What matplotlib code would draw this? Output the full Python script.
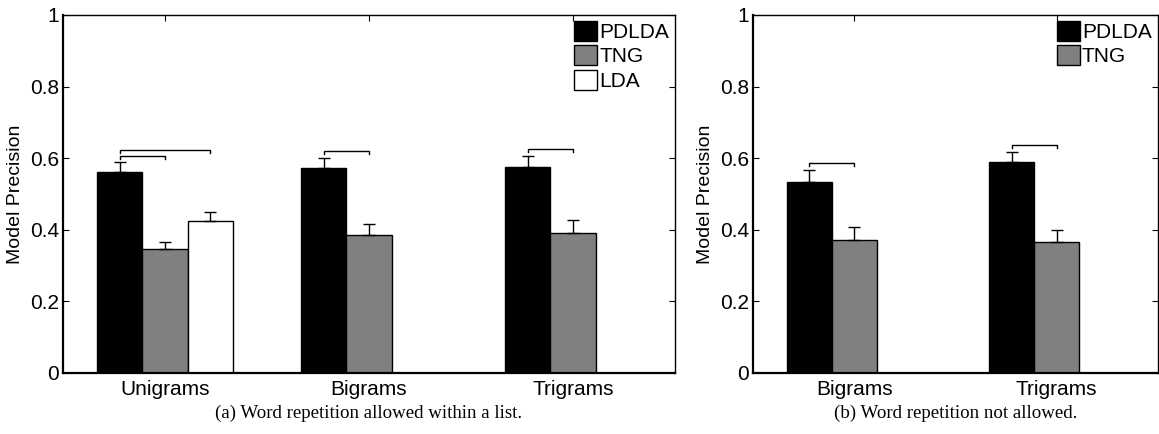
import numpy as np
import matplotlib
matplotlib.use('Agg')
import matplotlib.pyplot as plt

plt.rcParams['font.family'] = ['Liberation Sans', 'DejaVu Sans']

# panel (a): word repetition allowed
groups_a = ['Unigrams', 'Bigrams', 'Trigrams']
pdlda_a = [0.562, 0.573, 0.576]
pdlda_err_a = [0.026, 0.028, 0.030]
tng_a = [0.346, 0.385, 0.391]
tng_err_a = [0.021, 0.032, 0.035]
lda_a = [0.425, 0.0, 0.0]
lda_err_a = [0.025, 0.0, 0.0]
# significance brackets: (group, series from, series to, height)
brackets_a = [(0, 0, 1, 0.606), (0, 0, 2, 0.623), (1, 0, 1, 0.620), (2, 0, 1, 0.626)]

# panel (b): word repetition not allowed
groups_b = ['Bigrams', 'Trigrams']
pdlda_b = [0.533, 0.588]
pdlda_err_b = [0.033, 0.028]
tng_b = [0.372, 0.365]
tng_err_b = [0.037, 0.035]
lda_b = [0.0, 0.0]
brackets_b = [(0, 0, 1, 0.586), (1, 0, 1, 0.636)]

colors = ['black', '#808080', 'white']
names = ['PDLDA', 'TNG', 'LDA']
width = 0.222


def draw_panel(ax, groups, series, errs, brackets, n_legend, caption):
    x = np.arange(1, len(groups) + 1)
    offsets = [-width, 0, width]
    handles = []
    for i, (vals, col) in enumerate(zip(series, colors)):
        b = ax.bar(x + offsets[i], vals, width, color=col, edgecolor='black',
                   linewidth=1.0, zorder=2)
        handles.append(b)
        if errs[i] is not None:
            for xi, v, e in zip(x + offsets[i], vals, errs[i]):
                if e > 0:
                    ax.errorbar(xi, v, yerr=[[0], [e]], fmt='none', ecolor='black',
                                elinewidth=1.0, capsize=4, capthick=1.0, zorder=3)
    for g, s0, s1, h in brackets:
        x0 = x[g] + offsets[s0]
        x1 = x[g] + offsets[s1]
        ax.plot([x0, x0, x1, x1], [h - 0.008, h, h, h - 0.008], color='black',
                linewidth=1.0, zorder=3)
    ax.set_xlim(0.5, len(groups) + 0.5)
    ax.set_ylim(0, 1)
    ax.set_xticks(x)
    ax.set_xticklabels(groups, fontsize=15)
    ax.set_yticks([0, 0.2, 0.4, 0.6, 0.8, 1])
    ax.set_yticklabels(['0', '0.2', '0.4', '0.6', '0.8', '1'], fontsize=15)
    ax.tick_params(direction='in', length=4, top=True, right=True, pad=3)
    ax.tick_params(axis='x', pad=5)
    ax.set_ylabel('Model Precision', fontsize=14, labelpad=4)
    for sp in ax.spines.values():
        sp.set_linewidth(1.0)
    ax.spines['left'].set_linewidth(1.6)
    ax.spines['bottom'].set_linewidth(1.6)
    ax.legend(handles[:n_legend], names[:n_legend], loc='upper right',
              frameon=False, fontsize=15, handlelength=1.1, handleheight=1.1,
              handletextpad=0.1, labelspacing=0.15, borderaxespad=0.0,
              borderpad=0.3)
    ax.text(0.5, -0.088, caption, transform=ax.transAxes, ha='center', va='top',
            fontsize=13.6, family='Liberation Serif')


fig = plt.figure(figsize=(11.59, 4.34), dpi=100)
ax_a = fig.add_axes([0.0544, 0.1406, 0.528, 0.825])
ax_b = fig.add_axes([0.6497, 0.1406, 0.3494, 0.825])

draw_panel(ax_a, groups_a, [pdlda_a, tng_a, lda_a], [pdlda_err_a, tng_err_a, lda_err_a],
           brackets_a, 3, '(a) Word repetition allowed within a list.')
draw_panel(ax_b, groups_b, [pdlda_b, tng_b, lda_b], [pdlda_err_b, tng_err_b, None],
           brackets_b, 2, '(b) Word repetition not allowed.')

fig.savefig('out.png', dpi=100)
